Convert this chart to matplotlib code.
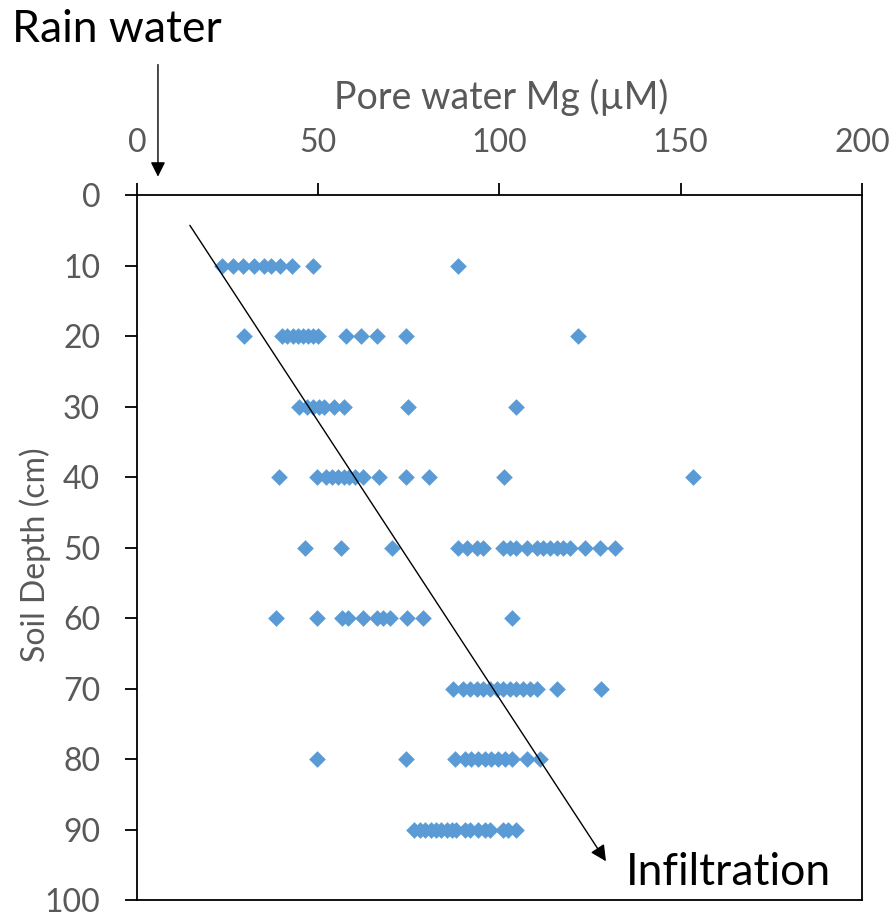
import matplotlib.pyplot as plt

# Pore water Mg (uM) at each soil depth (cm)
mg_10 = [23.4, 26.6, 29.3, 32.3, 35.0, 36.9, 39.5, 42.7, 48.5, 88.7]
mg_20 = [29.5, 39.9, 41.3, 43.1, 44.5, 45.9, 47.3, 48.6, 50.0, 57.8, 61.8, 66.1, 74.2, 121.6]
mg_30 = [44.7, 46.9, 48.5, 50.1, 51.7, 54.3, 57.0, 74.7, 104.7]
mg_40 = [39.2, 49.7, 52.2, 53.8, 55.4, 57.0, 58.5, 60.1, 62.3, 66.8, 74.3, 80.5, 101.2, 153.5]
mg_50 = [46.3, 56.3, 70.3, 88.6, 91.0, 93.7, 95.5, 101.0, 102.9, 104.5, 107.5, 110.5,
         112.1, 113.9, 115.8, 117.6, 119.4, 123.6, 127.7, 131.9]
mg_60 = [38.3, 49.6, 56.5, 58.3, 62.4, 66.1, 67.9, 69.8, 74.4, 78.8, 103.4]
mg_70 = [87.1, 90.0, 91.9, 93.7, 95.5, 97.4, 99.2, 101.0, 102.9, 104.7, 106.6, 108.4,
         110.3, 115.8, 127.9]
mg_80 = [49.6, 74.2, 87.7, 90.5, 92.3, 94.1, 96.0, 97.8, 99.7, 101.5, 103.4, 107.5, 111.2]
mg_90 = [76.5, 78.0, 79.5, 81.0, 82.5, 84.0, 85.5, 87.0, 88.0, 90.5, 92.0, 94.0, 96.0,
         97.5, 101.0, 102.5, 104.5]

depths = [10, 20, 30, 40, 50, 60, 70, 80, 90]
series = [mg_10, mg_20, mg_30, mg_40, mg_50, mg_60, mg_70, mg_80, mg_90]

x_ticks = [0, 50, 100, 150, 200]
y_ticks = list(range(0, 101, 10))

plt.rcParams['font.family'] = ['Lato', 'DejaVu Sans']
gray = '#595959'

fig = plt.figure(figsize=(8.95, 9.13), dpi=100)
ax = fig.add_axes([0.153, 0.0142, 0.81, 0.7722])

for d, vals in zip(depths, series):
    ax.scatter(vals, [d] * len(vals), marker='D', s=72, color='#5B9BD5',
               linewidths=0, zorder=3)

ax.set_xlim(0, 200)
ax.set_ylim(100, 0)
ax.xaxis.tick_top()
ax.xaxis.set_label_position('top')
ax.set_xticks(x_ticks)
ax.set_yticks(y_ticks)
ax.tick_params(axis='both', direction='out', length=8.5, width=1.3,
               labelsize=23, labelcolor=gray, color='black', pad=18)
for sp in ax.spines.values():
    sp.set_linewidth(1.3)

ax.set_xlabel('Pore water Mg (µM)', fontsize=27, color=gray, va='center')
ax.xaxis.set_label_coords(0.502, 1 + 98 / 705)
ax.set_ylabel('Soil Depth (cm)', fontsize=23, color=gray, va='center')
ax.yaxis.set_label_coords(-102 / 725, 0.49)

# infiltration arrow
ax.annotate('', xy=(129.4, 94.5), xytext=(14.6, 4.3),
            arrowprops=dict(arrowstyle='-|>', color='black', lw=1.0,
                            mutation_scale=24, shrinkA=0, shrinkB=0))
ax.text(135, 96.1, 'Infiltration', fontsize=32, color='black',
        ha='left', va='center')

# rain water arrow
ax.annotate('', xy=(5.8, -2.6), xytext=(5.8, -18.5),
            arrowprops=dict(arrowstyle='-|>', color='black', lw=1.0,
                            mutation_scale=22, shrinkA=0, shrinkB=0),
            annotation_clip=False)
fig.text(12 / 895, 1 - 29 / 913, 'Rain water', fontsize=32, color='black',
         ha='left', va='center')

plt.savefig('out.png', dpi=100)
